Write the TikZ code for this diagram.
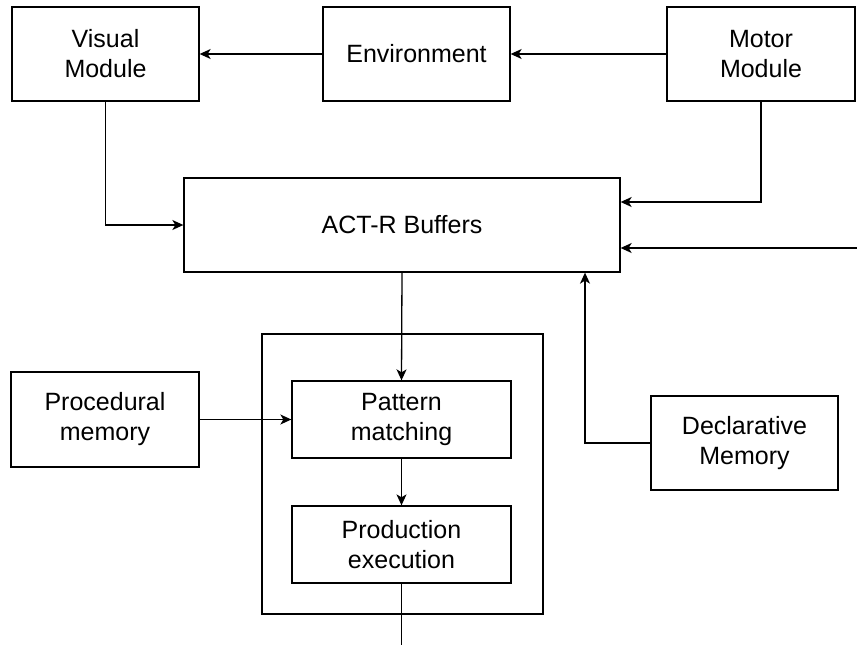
\documentclass[tikz,border=0pt]{standalone}
\usepackage{fontspec}
\setmainfont{Liberation Sans}
\usepackage{tikz}
\usetikzlibrary{%
arrows.meta,%
calc}

\begin{document}
\begin{tikzpicture}[x=1pt,y=-1pt,
    box/.style={draw,line width=1.3pt,align=center,inner sep=0pt,
        font=\fontsize{25}{30}\selectfont},
    wide/.style={box,minimum width=187pt,minimum height=94pt},
    inner/.style={box,minimum width=219pt,minimum height=77pt},
    link/.style={line width=1.3pt,-{Stealth[length=11pt,width=10pt,inset=3pt]}}
    ]
\useasboundingbox (0,0) rectangle (857,645);
% top row
\node[wide] (visual) at (105.5,54) {Visual\\Module};
\node[wide] (env) at (416.5,54) {Environment};
\node[wide,minimum width=188pt] (motor) at (761,54) {Motor\\Module};
% buffers
\node[box,minimum width=436pt,minimum height=94pt] (buffers) at (402,225) {ACT-R Buffers};
% procedural module
\node[box,minimum width=281pt,minimum height=280pt] (core) at (402.5,474) {};
\node[inner] (pattern) at (401.5,419.5) {Pattern\\matching};
\node[inner] (prod) at (401.5,544.5) {Production\\execution};
\node[wide,minimum width=188pt,minimum height=95pt] (proc) at (105,419.5) {Procedural\\memory};
\node[wide] (decl) at (744.5,443) {Declarative\\Memory};
\coordinate (ext) at (857,248);
\coordinate (out) at (401.5,645);
% connections
\draw[link] (env) -- (visual);
\draw[link] (motor) -- (env);
\draw[link] (visual.south) |- (buffers.west);
\draw[link] (motor.south) |- ([yshift=23pt]buffers.east);
\draw[link] (ext) -- (buffers.east |- ext);
\draw[link] (buffers.south) -- (pattern.north);
\draw[link] (proc) -- (pattern);
\draw[link] (pattern) -- (prod);
\draw[line width=1.3pt] (prod.south) -- (out);
\draw[link] (decl.west) -| ([xshift=183pt]buffers.south);
\end{tikzpicture}
\end{document}
